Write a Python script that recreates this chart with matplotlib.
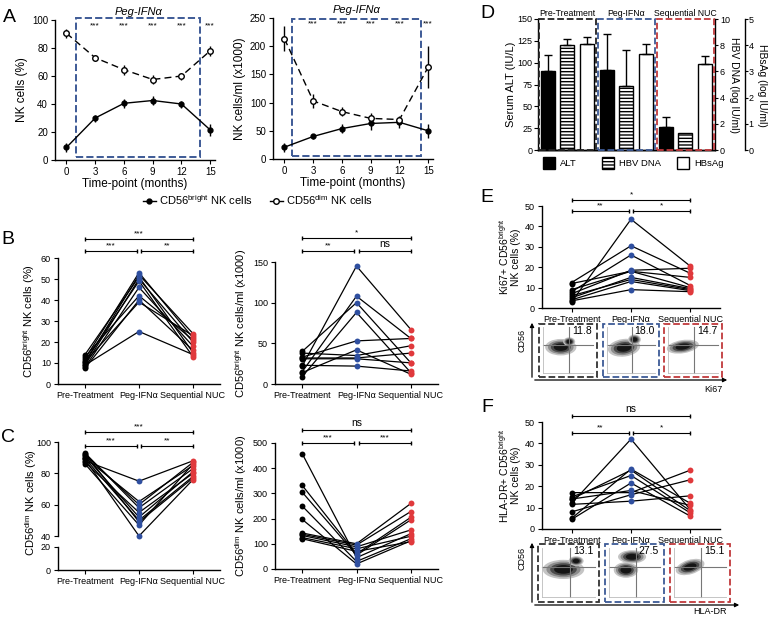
import matplotlib
matplotlib.use('Agg')
import matplotlib.pyplot as plt
from matplotlib.patches import Rectangle, Ellipse, Patch
from matplotlib.lines import Line2D
import matplotlib.transforms as mtransforms
import numpy as np

plt.rcParams['font.family'] = ['Liberation Sans', 'DejaVu Sans']
plt.rcParams['mathtext.fontset'] = 'custom'
plt.rcParams['mathtext.rm'] = 'Liberation Sans'
plt.rcParams['mathtext.it'] = 'Liberation Sans:italic'
plt.rcParams['axes.linewidth'] = 1.0
plt.rcParams['hatch.linewidth'] = 1.0
plt.rcParams['xtick.major.size'] = 3
plt.rcParams['ytick.major.size'] = 3

# ---------------- data ----------------
months = [0, 3, 6, 9, 12, 15]
sig_months = [3, 6, 9, 12, 15]
a_pct_bright = [9, 30, 40.5, 42.5, 40, 21.5]
a_pct_bright_err = [3, 2.5, 3, 3.5, 2.5, 4]
a_pct_dim = [90.5, 73, 64.5, 57.5, 60, 78]
a_pct_dim_err = [3, 2, 3.5, 3.5, 2.5, 3.5]
a_abs_bright = [21, 40, 54, 63, 65, 50]
a_abs_bright_err = [8, 4, 8, 12, 10, 12]
a_abs_dim = [213, 103, 84, 72, 70, 163]
a_abs_dim_err = [22, 12, 8, 10, 6, 37]

groups = ['Pre-Treatment', 'Peg-IFNα', 'Sequential NUC']
alt = [91, 92, 26]
alt_err = [18, 41, 12]
hbv_dna = [8.05, 4.85, 1.33]
hbv_dna_err = [0.4, 2.8, 0]
hbsag = [4.03, 3.67, 3.27]
hbsag_err = [0.3, 0.37, 0.33]

b_pct_pre = [12, 10, 14, 9, 11, 8, 13, 7.5, 10.5, 9]
b_pct_peg = [53, 52, 51, 50, 49, 46, 42, 40, 39, 25]
b_pct_seq = [22, 24, 15, 20, 13, 18, 21, 16, 23, 14]

b_abs_pre = [22, 15, 40, 9, 33, 14, 38, 32, 23, 31]
b_abs_peg = [145, 108, 100, 88, 53, 42, 35, 32, 22, 31]
b_abs_seq = [67, 56, 26, 14, 56, 12, 47, 38, 16, 26]

c_pct_pre = [88, 90, 92, 93, 87, 91, 89.5, 92.5, 86, 89]
c_pct_peg = [75, 62, 60, 58, 55, 52, 50, 49, 47, 40]
c_pct_seq = [88, 85, 87, 83, 80, 81, 78, 77, 86, 76]

c_abs_pre = [458, 332, 305, 250, 197, 143, 138, 133, 125, 120]
c_abs_peg = [45, 60, 55, 30, 20, 100, 95, 88, 80, 70]
c_abs_seq = [140, 205, 195, 120, 112, 260, 228, 155, 130, 108]

e_pre = [3, 12.5, 8, 7, 12, 9, 5, 6, 4, 3.5]
e_peg = [43.5, 30.5, 26, 18.5, 18, 18, 15, 14, 13, 9]
e_seq = [20.5, 17, 11, 19.5, 10, 15, 9.5, 9, 8.5, 8]

f_pre = [12, 5, 14, 15, 4.5, 17, 8, 11.5, 14]
f_peg = [42, 28, 27.5, 25, 21.5, 17, 16, 13, 18]
f_seq = [9, 12, 8.5, 7.5, 6, 27.5, 23, 15.5, 11]

flow_e_vals = ['11.8', '18.0', '14.7']
flow_f_vals = ['13.1', '27.5', '15.1']
# blobs: (cx, cy, w, h, angle)
flow_e_blobs = [[(0.38, 0.56, 0.52, 0.30, 0), (0.52, 0.66, 0.20, 0.16, 0)],
                [(0.38, 0.55, 0.56, 0.32, 8), (0.56, 0.70, 0.22, 0.18, 0)],
                [(0.33, 0.57, 0.54, 0.24, 10)]]
flow_f_blobs = [[(0.42, 0.56, 0.66, 0.32, 0), (0.62, 0.70, 0.24, 0.16, 0)],
                [(0.46, 0.77, 0.46, 0.22, 0), (0.36, 0.55, 0.40, 0.26, 0)],
                [(0.34, 0.60, 0.48, 0.24, 18)]]

BLUE = '#2f4f9f'
BOXBLUE = '#3d5a96'
RED = '#e0393c'
BOXRED = '#c0393c'
TICK = 6.5
CAT = 6.3
LAB = 8

W, H = 770, 617
fig = plt.figure(figsize=(W / 100, H / 100), dpi=100)


def add_ax(x0, y0, x1, y1):
    return fig.add_axes([x0 / W, 1 - y1 / H, (x1 - x0) / W, (y1 - y0) / H])


def prism(ax):
    ax.spines['top'].set_visible(False)
    ax.spines['right'].set_visible(False)


def ftext(x, y, s, **kw):
    fig.text(x / W, 1 - y / H, s, **kw)


# ---------------- Panel A ----------------
def panel_a(ax, bright, berr, dim, derr, ylim, yticks, box, star_y, ylabel):
    ax.plot(months, bright, '-', color='black', lw=1.0, zorder=3)
    ax.errorbar(months, bright, yerr=berr, fmt='o', color='black', ms=3.5,
                elinewidth=1, capsize=0, zorder=4)
    ax.plot(months, dim, '--', color='black', lw=1.0, dashes=(5, 3), zorder=3)
    ax.errorbar(months, dim, yerr=derr, fmt='o', color='black', mfc='white',
                ms=4, elinewidth=1, capsize=0, zorder=4)
    ax.add_patch(Rectangle((box[0], box[1]), box[2] - box[0], box[3] - box[1],
                           fill=False, ls='--', ec=BOXBLUE, lw=1.4, clip_on=False, zorder=2))
    for m in sig_months:
        ax.text(m, star_y, '***', ha='center', va='center', fontsize=6)
    ax.text(7.5, ylim[1] * 1.06, 'Peg-IFNα', ha='center', va='center',
            fontsize=8, style='italic')
    ax.set_ylim(*ylim)
    ax.set_xlim(-1.2, 15.5)
    ax.set_xticks(months)
    ax.set_yticks(yticks)
    ax.tick_params(labelsize=7, length=3, pad=2)
    ax.set_xlabel('Time-point (months)', fontsize=8.5, labelpad=1)
    ax.set_ylabel(ylabel, fontsize=8.5, labelpad=3)
    prism(ax)


axA1 = add_ax(55, 20, 215, 160)
panel_a(axA1, a_pct_bright, a_pct_bright_err, a_pct_dim, a_pct_dim_err,
        (0, 100), range(0, 101, 20), (1.0, 2, 13.9, 101.5), 96, 'NK cells (%)')
axA2 = add_ax(273, 18, 433, 159)
panel_a(axA2, a_abs_bright, a_abs_bright_err, a_abs_dim, a_abs_dim_err,
        (0, 250), range(0, 251, 50), (0.75, 5, 14.2, 248), 239, 'NK cells/ml (x1000)')

legA = [Line2D([], [], color='black', marker='o', ms=3.5, lw=1),
        Line2D([], [], color='black', marker='o', mfc='white', ms=4, lw=1)]
fig.legend(legA, ['CD56$^{\\rm bright}$ NK cells', 'CD56$^{\\rm dim}$ NK cells'],
           ncol=2, loc='center', bbox_to_anchor=(258 / W, 1 - 200 / H), frameon=False,
           fontsize=8, handlelength=1.2, handletextpad=0.3, columnspacing=1.5)

# ---------------- Panel D ----------------
axD = add_ax(538, 19, 715, 150)
g = np.arange(3)
bw = 0.23
axD.bar(g + 0.17, alt, bw, color='black', edgecolor='black', lw=1, zorder=2)
axD.errorbar(g + 0.17, alt, yerr=[[0] * 3, alt_err], fmt='none', ecolor='black',
             elinewidth=1, capsize=3, zorder=3)
axD.set_ylim(0, 150)
axD.set_xlim(0, 3)
axD.set_yticks(range(0, 151, 25))
axD.set_xticks([])
axD.tick_params(labelsize=TICK, length=3, pad=1)
axD.set_ylabel('Serum ALT (IU/L)', fontsize=LAB, labelpad=1)
axD.spines['top'].set_visible(False)
axD.spines['right'].set_visible(False)

axD2 = axD.twinx()
axD2.bar(g + 0.49, hbv_dna, bw, color='white', edgecolor='black', lw=1, hatch='-----', zorder=2)
idx = [i for i in range(3) if hbv_dna_err[i] > 0]
axD2.errorbar([g[i] + 0.49 for i in idx], [hbv_dna[i] for i in idx],
              yerr=[[0] * len(idx), [hbv_dna_err[i] for i in idx]], fmt='none',
              ecolor='black', elinewidth=1, capsize=3)
axD2.set_ylim(0, 10)
axD2.set_yticks(range(0, 11, 2))
axD2.tick_params(labelsize=TICK, length=2.5, pad=1)
axD2.spines['top'].set_visible(False)
axD2.spines['left'].set_visible(False)

axD3 = axD.twinx()
axD3.spines['right'].set_position(('outward', 21.5))
axD3.bar(g + 0.83, hbsag, bw, color='white', edgecolor='black', lw=1, zorder=2)
axD3.errorbar(g + 0.83, hbsag, yerr=[[0] * 3, hbsag_err], fmt='none', ecolor='black',
              elinewidth=1, capsize=3)
axD3.set_ylim(0, 5)
axD3.set_yticks(range(0, 6))
axD3.tick_params(labelsize=TICK, length=2, pad=0.5)
axD3.spines['top'].set_visible(False)
axD3.spines['left'].set_visible(False)
ftext(734, 85, 'HBV DNA (log IU/ml)', rotation=270, ha='center', va='center', fontsize=7.5)
ftext(762, 85, 'HBsAg (log IU/ml)', rotation=270, ha='center', va='center', fontsize=7.5)

for i, (lab, col) in enumerate(zip(groups, ['#222222', BOXBLUE, BOXRED])):
    axD3.add_patch(Rectangle((i + 0.01, 0), 0.98, 150, transform=axD.transData, fill=False,
                             ls='--', ec=col, lw=1.3, clip_on=False, zorder=5))
    axD3.text(i + 0.5, 151, lab, transform=axD.transData, ha='center', va='bottom',
              fontsize=CAT)

# D legend (manual)
for (x, lab, fc, hatch) in [(543, 'ALT', 'black', None), (602, 'HBV DNA', 'white', '-----'),
                            (677, 'HBsAg', 'white', None)]:
    fig.add_artist(Rectangle((x / W, 1 - 169 / H), 12 / W, 12 / H, transform=fig.transFigure,
                             fc=fc, ec='black', lw=1, hatch=hatch))
    ftext(x + 17, 163, lab, ha='left', va='center', fontsize=CAT + 0.5)


# ---------------- paired panels ----------------
def paired(ax, pre, peg, seq):
    for a, b, c in zip(pre, peg, seq):
        ax.plot([0, 1, 2], [a, b, c], color='black', lw=0.9, zorder=2, clip_on=False)
    ax.scatter([0] * len(pre), pre, s=18, c='black', zorder=3, clip_on=False, lw=0)
    ax.scatter([1] * len(peg), peg, s=18, c=BLUE, zorder=3, clip_on=False, lw=0)
    ax.scatter([2] * len(seq), seq, s=18, c=RED, zorder=3, clip_on=False, lw=0)
    ax.set_xlim(-0.5, 2.5)
    ax.set_xticks([0, 1, 2])
    ax.set_xticklabels(groups, fontsize=CAT)
    ax.tick_params(labelsize=TICK, length=3, pad=2)
    prism(ax)


def sig(ax, x0, x1, ypix, text, fs=6):
    tr = mtransforms.blended_transform_factory(ax.transData, fig.transFigure)
    yf = 1 - ypix / H
    ax.plot([x0, x1], [yf, yf], transform=tr, color='black', lw=0.8, clip_on=False)
    ax.plot([x0, x1], [yf, yf], transform=tr, color='black', lw=0, marker='|', ms=3,
            clip_on=False)
    ax.text((x0 + x1) / 2, yf + 1.5 / H, text, transform=tr, ha='center', va='bottom',
            fontsize=fs)


def sigset(ax, top_y, low_y, t_top, t_l, t_r):
    sig(ax, 0, 2, top_y, t_top, 7.5 if t_top == 'ns' else 6)
    sig(ax, 0, 0.96, low_y, t_l, 7.5 if t_l == 'ns' else 6)
    sig(ax, 1.04, 2, low_y, t_r, 7.5 if t_r == 'ns' else 6)


# B left
axB1 = add_ax(58, 258, 220, 384)
paired(axB1, b_pct_pre, b_pct_peg, b_pct_seq)
axB1.set_ylim(0, 60)
axB1.set_yticks(range(0, 61, 10))
axB1.set_ylabel('CD56$^{\\rm bright}$ NK cells (%)', fontsize=LAB, labelpad=3)
sigset(axB1, 239, 251, '***', '***', '**')

# B right
axB2 = add_ax(275, 262, 438, 384)
paired(axB2, b_abs_pre, b_abs_peg, b_abs_seq)
axB2.set_ylim(0, 150)
axB2.set_yticks([0, 50, 100, 150])
axB2.set_ylabel('CD56$^{\\rm bright}$ NK cells/ml (x1000)', fontsize=LAB, labelpad=3)
sigset(axB2, 238, 251, '*', '**', 'ns')

# C left (broken axis)
axC1u = add_ax(58, 442, 220, 536)
paired(axC1u, c_pct_pre, c_pct_peg, c_pct_seq)
axC1u.set_ylim(40, 100)
axC1u.set_yticks([40, 60, 80, 100])
axC1u.spines['bottom'].set_visible(False)
axC1u.set_xticks([])
axC1l = add_ax(58, 547, 220, 570)
prism(axC1l)
axC1l.set_xlim(-0.5, 2.5)
axC1l.set_ylim(0, 20)
axC1l.set_yticks([0, 20])
axC1l.set_xticks([0, 1, 2])
axC1l.set_xticklabels(groups, fontsize=CAT)
axC1l.tick_params(labelsize=TICK, length=3, pad=2)
ftext(31, 502, 'CD56$^{\\rm dim}$ NK cells (%)', rotation=90, ha='center', va='center',
      fontsize=LAB)
sigset(axC1u, 432, 446, '***', '***', '**')

# C right
axC2 = add_ax(275, 443, 438, 569)
paired(axC2, c_abs_pre, c_abs_peg, c_abs_seq)
axC2.set_ylim(0, 500)
axC2.set_yticks(range(0, 501, 100))
axC2.set_ylabel('CD56$^{\\rm dim}$ NK cells/ml (x1000)', fontsize=LAB, labelpad=3)
sigset(axC2, 430, 443, 'ns', '***', '***')

# E
axE = add_ax(542, 206, 720, 308)
paired(axE, e_pre, e_peg, e_seq)
axE.set_ylim(0, 50)
axE.set_yticks(range(0, 51, 10))
axE.set_ylabel('Ki67+ CD56$^{\\rm bright}$\nNK cells (%)', fontsize=7.5, labelpad=3,
               linespacing=0.95)
sigset(axE, 200, 211, '*', '**', '*')

# F
axF = add_ax(542, 422, 720, 529)
paired(axF, f_pre, f_peg, f_seq)
axF.set_ylim(0, 50)
axF.set_yticks(range(0, 51, 10))
axF.set_ylabel('HLA-DR+ CD56$^{\\rm bright}$\nNK cells (%)', fontsize=7.5, labelpad=3,
               linespacing=0.95)
sigset(axF, 416, 433, 'ns', '**', '*')


# ---------------- flow plots ----------------
def flow(box, val, blobs, col):
    ax = add_ax(*box)
    ax.set_xlim(0, 1)
    ax.set_ylim(0, 1)
    ax.set_xticks([])
    ax.set_yticks([])
    for s in ax.spines.values():
        s.set_visible(False)
    ax.add_patch(Rectangle((0.01, 0.01), 0.98, 0.98, fill=False, ls='--', ec=col, lw=1.3,
                           transform=ax.transAxes, clip_on=False))
    for (cx, cy, w, h, ang) in blobs:
        for sc, c in [(1.0, '#c4c4c4'), (0.82, '#8c8c8c'), (0.64, '#4a4a4a'),
                      (0.45, '#151515')]:
            ax.add_patch(Ellipse((cx, cy), w * sc, h * sc, angle=ang, fc=c, ec='none'))
    ax.plot([0.08, 0.92], [0.6, 0.6], color='#777777', lw=0.8)
    ax.plot([0.52, 0.52], [0.1, 0.92], color='#777777', lw=0.8)
    ax.plot([0.08, 0.08], [0.1, 0.92], color='#bbbbbb', lw=0.6)
    ax.plot([0.08, 0.92], [0.1, 0.1], color='#bbbbbb', lw=0.6)
    ax.text(0.9, 0.86, val, ha='right', va='center', fontsize=7.5)


cols = ['#333333', BOXBLUE, BOXRED]
e_boxes = [(538, 323, 598, 378), (602, 323, 660, 378), (663, 323, 723, 378)]
f_boxes = [(537, 543, 600, 603), (604, 543, 665, 603), (669, 543, 731, 603)]
for b, v, bl, c in zip(e_boxes, flow_e_vals, flow_e_blobs, cols):
    flow(b, v, bl, c)
for b, v, bl, c in zip(f_boxes, flow_f_vals, flow_f_blobs, cols):
    flow(b, v, bl, c)


def arrow(x0, y0, x1, y1):
    fig.add_artist(matplotlib.patches.FancyArrowPatch(
        (x0 / W, 1 - y0 / H), (x1 / W, 1 - y1 / H), transform=fig.transFigure,
        arrowstyle='-|>', mutation_scale=6, lw=0.9, color='black'))


arrow(532, 380, 532, 320)
arrow(532, 380, 730, 380)
arrow(532, 605, 532, 540)
arrow(532, 605, 742, 605)
ftext(522, 340, 'CD56', rotation=90, ha='center', va='center', fontsize=6.5)
ftext(713, 390, 'Ki67', ha='center', va='center', fontsize=6.5)
ftext(522, 558, 'CD56', rotation=90, ha='center', va='center', fontsize=6.5)
ftext(710, 612, 'HLA-DR', ha='center', va='center', fontsize=6.5)

# panel letters
for (x, y, s) in [(9, 17, 'A'), (8, 240, 'B'), (8, 437, 'C'), (487, 14, 'D'),
                  (487, 197, 'E'), (487, 408, 'F')]:
    ftext(x, y, s, ha='center', va='center', fontsize=14)

fig.savefig('out.png', dpi=100)
